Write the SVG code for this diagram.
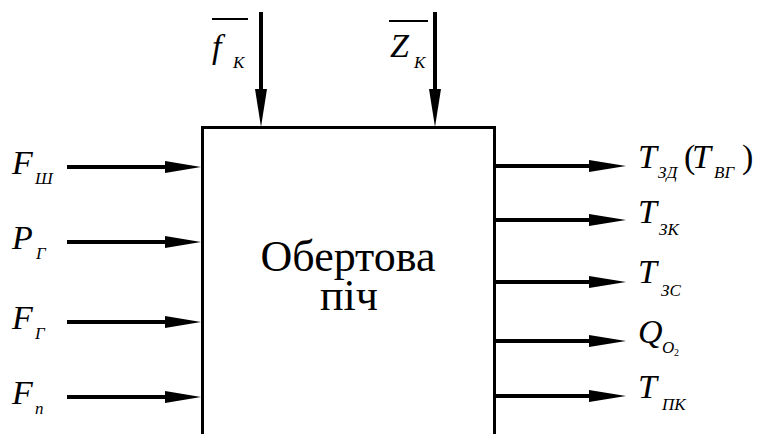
<svg xmlns="http://www.w3.org/2000/svg" width="763" height="434" viewBox="0 0 763 434" font-family="'Liberation Serif', 'Times New Roman', Tinos, 'DejaVu Serif', serif">
<style>
.ln{stroke:#000;stroke-width:4;fill:none}
.hd{fill:#000}
.lb{font-style:italic;font-size:34px}
.pr{font-style:normal;font-size:34px}
.sb{font-style:italic;font-size:17px}
.s2{font-style:normal;font-size:10px}
.mt{font-size:44px}
.ov{stroke:#000;stroke-width:2}
</style>
<rect width="763" height="434" fill="#fff"/>
<g id="furnace">
<rect x="202.5" y="127.5" width="292" height="330" fill="none" stroke="#000" stroke-width="3"/>
<text class="mt" x="348" y="271" text-anchor="middle">Обертова</text>
<text class="mt" x="349" y="310" text-anchor="middle">піч</text>
</g>
<g id="connectors">
<line class="ln" x1="67" y1="167" x2="168" y2="167"/><polygon class="hd" points="165,161 201,167 165,173"/>
<line class="ln" x1="67" y1="242" x2="168" y2="242"/><polygon class="hd" points="165,236 201,242 165,248"/>
<line class="ln" x1="67" y1="322" x2="168" y2="322"/><polygon class="hd" points="165,316 201,322 165,328"/>
<line class="ln" x1="67" y1="397" x2="168" y2="397"/><polygon class="hd" points="165,391 201,397 165,403"/>
<line class="ln" x1="261" y1="12" x2="261" y2="92"/><polygon class="hd" points="255,89 261,127 267,89"/>
<line class="ln" x1="435" y1="12" x2="435" y2="92"/><polygon class="hd" points="429,89 435,127 441,89"/>
<line class="ln" x1="495" y1="166" x2="592" y2="166"/><polygon class="hd" points="589,160 626,166 589,172"/>
<line class="ln" x1="495" y1="220" x2="592" y2="220"/><polygon class="hd" points="589,214 626,220 589,226"/>
<line class="ln" x1="495" y1="282" x2="592" y2="282"/><polygon class="hd" points="589,276 626,282 589,288"/>
<line class="ln" x1="495" y1="341" x2="592" y2="341"/><polygon class="hd" points="589,335 626,341 589,347"/>
<line class="ln" x1="495" y1="396" x2="592" y2="396"/><polygon class="hd" points="589,390 626,396 589,402"/>
</g>
<g id="inputs">
<text class="lb" x="12" y="174">F</text><text class="sb" x="35" y="184">Ш</text>
<text class="lb" x="12" y="249">P</text><text class="sb" x="36" y="259">Г</text>
<text class="lb" x="12" y="329">F</text><text class="sb" x="35" y="339">Г</text>
<text class="lb" x="12" y="404">F</text><text class="sb" x="35" y="414">n</text>
</g>
<g id="disturbances">
<line class="ov" x1="212" y1="19" x2="248" y2="19"/>
<text class="lb" x="212" y="58">f</text><text class="sb" x="233" y="68">K</text>
<line class="ov" x1="389" y1="21" x2="428" y2="21"/>
<text class="lb" x="390" y="57">Z</text><text class="sb" x="414" y="68">K</text>
</g>
<g id="outputs">
<text class="lb" x="638" y="168">T</text><text class="sb" x="658" y="178">ЗД</text>
<text class="pr" x="684" y="168">(</text>
<text class="lb" x="692" y="168">T</text><text class="sb" x="714" y="178">ВГ</text>
<text class="pr" x="742" y="168">)</text>
<text class="lb" x="638" y="223">T</text><text class="sb" x="659" y="235">ЗК</text>
<text class="lb" x="638" y="283">T</text><text class="sb" x="661" y="296">ЗС</text>
<text class="lb" x="638" y="343">Q</text><text class="sb" x="662" y="353">O</text><text class="s2" x="674" y="356">2</text>
<text class="lb" x="638" y="398">T</text><text class="sb" x="662" y="410">ПК</text>
</g>
</svg>
